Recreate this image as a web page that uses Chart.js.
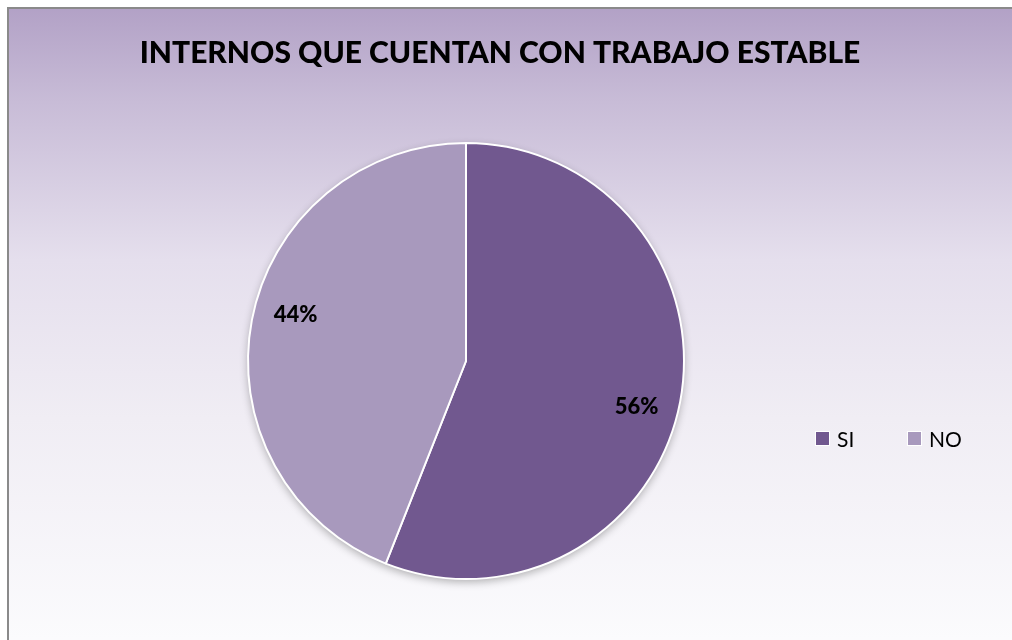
<!DOCTYPE html>
<html>
<head>
<meta charset="utf-8">
<script src="https://cdn.jsdelivr.net/npm/chart.js@4/dist/chart.umd.min.js"></script>
<style>
  html, body { margin: 0; padding: 0; background: #ffffff; }
  canvas { display: block; }
</style>
</head>
<body>
<canvas id="myPieChart" width="1012" height="640"></canvas>
<script>
// Datos del gráfico
const chartTitle = "INTERNOS QUE CUENTAN CON TRABAJO ESTABLE";
const categorias = ["SI", "NO"];
const porcentajes = [56, 44];
const colores = ["#71588f", "#a899bd"];

// Fondo degradado y borde del área del gráfico
const fondoPlugin = {
    id: "fondo",
    beforeDraw(chart) {
        const ctx = chart.ctx;
        ctx.save();
        const grad = ctx.createLinearGradient(0, 7, 0, 640);
        grad.addColorStop(0, "#b2a1c6");
        grad.addColorStop(0.15, "#c8bcd7");
        grad.addColorStop(0.4, "#e5dfed");
        grad.addColorStop(0.65, "#f0edf4");
        grad.addColorStop(1, "#fbfbfd");
        ctx.fillStyle = grad;
        ctx.fillRect(8, 8, chart.width, chart.height);
        ctx.strokeStyle = "#8a8a8a";
        ctx.lineWidth = 2;
        ctx.beginPath();
        ctx.moveTo(8, chart.height + 5);
        ctx.lineTo(8, 8);
        ctx.lineTo(chart.width + 5, 8);
        ctx.stroke();

        // Título
        ctx.fillStyle = "#000000";
        ctx.font = "900 30px Lato";
        ctx.textAlign = "center";
        ctx.textBaseline = "middle";
        ctx.fillText(chartTitle, 500, 53);
        ctx.restore();
    },
    beforeDatasetsDraw(chart) {
        // sombra bajo el pastel
        const arc = chart.getDatasetMeta(0).data[0];
        if (!arc) return;
        const ctx = chart.ctx;
        ctx.save();
        ctx.shadowColor = "rgba(0,0,0,0.3)";
        ctx.shadowBlur = 8;
        ctx.shadowOffsetY = 3;
        ctx.fillStyle = "#ffffff";
        ctx.beginPath();
        ctx.arc(arc.x, arc.y, arc.outerRadius, 0, Math.PI * 2);
        ctx.fill();
        ctx.restore();
    },
    afterDatasetsDraw(chart) {
        const ctx = chart.ctx;
        const meta = chart.getDatasetMeta(0);
        ctx.save();
        ctx.fillStyle = "#000000";
        ctx.font = "900 22px Lato";
        ctx.textAlign = "center";
        ctx.textBaseline = "middle";
        meta.data.forEach(function (arc, i) {
            const ang = (arc.startAngle + arc.endAngle) / 2 + 0.075;
            const r = arc.outerRadius * 0.81;
            ctx.fillText(porcentajes[i] + "%", arc.x + Math.cos(ang) * r, arc.y + Math.sin(ang) * r);
        });

        // Leyenda
        ctx.font = "21px Lato";
        ctx.textAlign = "left";
        const legendX = [816, 908];
        categorias.forEach(function (cat, i) {
            ctx.fillStyle = colores[i];
            ctx.strokeStyle = "#ffffff";
            ctx.lineWidth = 1;
            ctx.fillRect(legendX[i], 432, 13, 13);
            ctx.strokeRect(legendX[i] - 0.5, 431.5, 14, 14);
            ctx.fillStyle = "#000000";
            ctx.fillText(cat, legendX[i] + 21, 440);
        });
        ctx.restore();
    },
};

const pieCanvas = document.getElementById("myPieChart");
const myPieChart = new Chart(pieCanvas.getContext("2d"), {
    type: "pie",
    data: {
        labels: categorias,
        datasets: [
            {
                data: porcentajes,
                backgroundColor: colores,
                borderColor: "#ffffff",
                borderWidth: 2,
            },
        ],
    },
    options: {
        responsive: false,
        animation: false,
        layout: {
            padding: { left: 247, top: 141, right: 327, bottom: 59 },
        },
        plugins: {
            legend: { display: false },
            title: { display: false },
            tooltip: { enabled: false },
        },
    },
    plugins: [fondoPlugin],
});
</script>
</body>
</html>
